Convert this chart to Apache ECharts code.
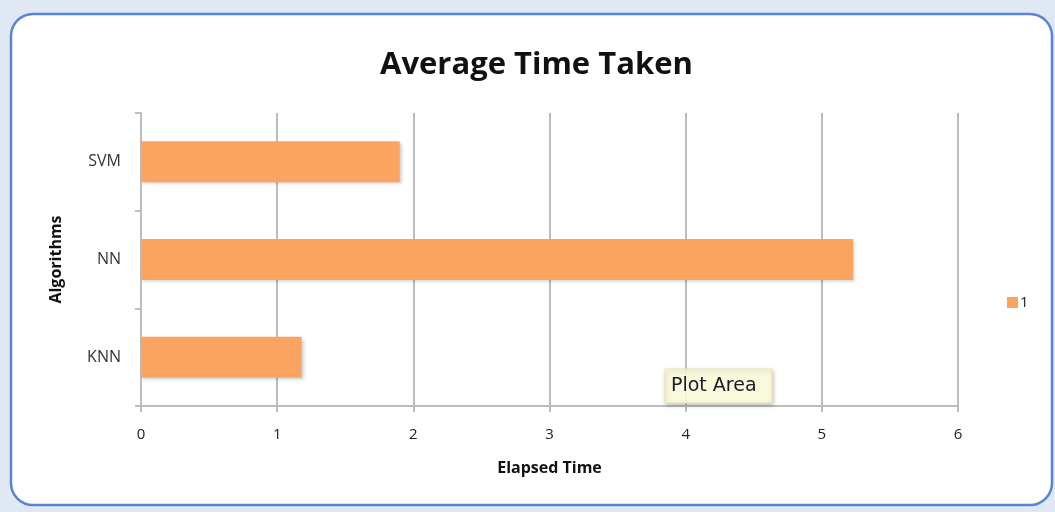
<!DOCTYPE html>
<html>
<head>
<meta charset="utf-8">
<script src="https://cdn.jsdelivr.net/npm/echarts@6/dist/echarts.min.js"></script>
<style>
  html, body { margin: 0; padding: 0; background: #dfe8f3; }
  #chart { width: 1055px; height: 512px; }
</style>
</head>
<body>
<div id="chart"></div>
<script>
// Categories listed bottom to top on the vertical axis
const algorithms = ['KNN', 'NN', 'SVM'];
const elapsedTime = [1.18, 5.23, 1.90];
const seriesName = '1';
const xTicks = { min: 0, max: 6, interval: 1 };

const chart = echarts.init(document.getElementById('chart'));
const font = '"Open Sans", Lato, sans-serif';
const gridGray = '#bdbdbd';

chart.setOption({
  animation: false,
  backgroundColor: 'transparent',
  graphic: [
    // chart frame with rounded corners
    {
      type: 'rect', z: -10,
      shape: { x: 11, y: 14, width: 1041, height: 491, r: 22 },
      style: { fill: '#ffffff', stroke: '#5b84d6', lineWidth: 2.5 }
    },
    // hover hint box over the plot area
    {
      type: 'rect', z: 100,
      shape: { x: 665, y: 369, width: 107, height: 34 },
      style: { fill: 'rgba(255,254,222,0.9)', stroke: '#e8e6b8', lineWidth: 1,
               shadowBlur: 4, shadowOffsetX: 1, shadowOffsetY: 2, shadowColor: 'rgba(0,0,0,0.25)' }
    },
    {
      type: 'text', z: 101,
      x: 671, y: 386,
      style: { text: 'Plot Area', fill: '#1a1a2a', font: '19px "DejaVu Sans", sans-serif', verticalAlign: 'middle' }
    }
  ],
  title: {
    text: 'Average Time Taken',
    left: 375,
    top: 45,
    textStyle: { fontFamily: font, fontWeight: 'bold', fontSize: 31, color: '#111' }
  },
  legend: {
    data: [seriesName],
    orient: 'vertical',
    left: 1002,
    top: 290,
    itemWidth: 11,
    itemHeight: 11,
    itemGap: 6,
    icon: 'rect',
    textStyle: { fontFamily: font, fontSize: 15, color: '#222', padding: [3, 0, 0, -3] }
  },
  grid: { left: 141, right: 97, top: 113, bottom: 106 },
  xAxis: {
    type: 'value',
    min: xTicks.min,
    max: xTicks.max,
    interval: xTicks.interval,
    name: 'Elapsed Time',
    nameLocation: 'middle',
    nameGap: 54,
    nameTextStyle: { fontFamily: font, fontWeight: 'bold', fontSize: 16, color: '#111' },
    axisLine: { show: true, lineStyle: { color: gridGray, width: 2 } },
    axisTick: { show: true, length: 6, lineStyle: { color: gridGray, width: 2 } },
    axisLabel: { fontFamily: font, fontSize: 15, color: '#222', margin: 21 },
    splitLine: { show: true, lineStyle: { color: gridGray, width: 2 } }
  },
  yAxis: {
    type: 'category',
    data: algorithms,
    name: 'Algorithms',
    nameLocation: 'middle',
    nameGap: 77,
    nameRotate: 90,
    nameTextStyle: { fontFamily: font, fontWeight: 'bold', fontSize: 16, color: '#111' },
    axisLine: { show: true, lineStyle: { color: gridGray, width: 2 } },
    axisTick: { show: true, length: 6, lineStyle: { color: gridGray, width: 2 } },
    axisLabel: { fontFamily: font, fontSize: 16, color: '#333', margin: 20 },
    splitLine: { show: false }
  },
  series: [{
    name: seriesName,
    type: 'bar',
    data: elapsedTime,
    barWidth: '42%',
    itemStyle: {
      color: '#fba461',
      shadowBlur: 3, shadowOffsetX: 2, shadowOffsetY: 2, shadowColor: 'rgba(0,0,0,0.18)'
    }
  }]
});
</script>
</body>
</html>
